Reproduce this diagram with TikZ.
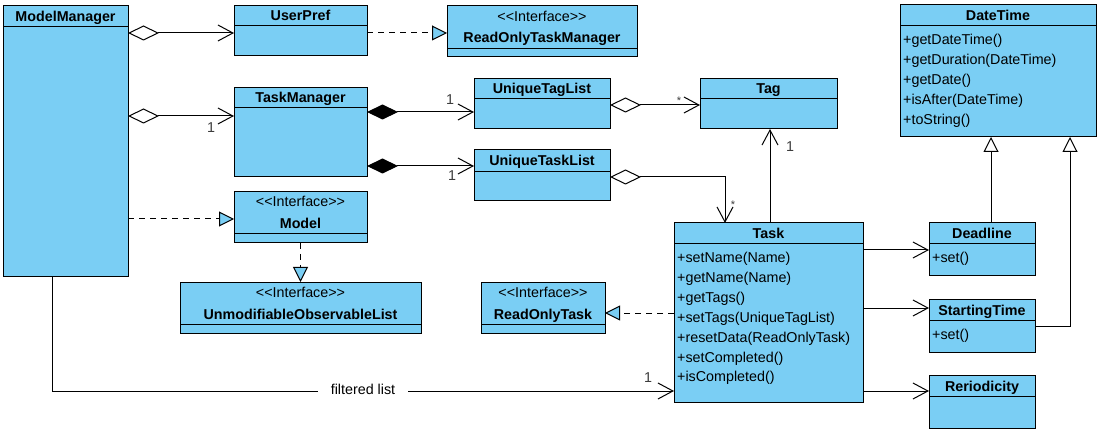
\documentclass[tikz,border=0pt]{standalone}
\usepackage{fontspec}
\newfontfamily\umlfont{Liberation Sans}
\usetikzlibrary{arrows.meta}
\definecolor{clsblue}{RGB}{122,206,244}
\definecolor{lblgray}{RGB}{60,60,60}
\tikzset{
  cls/.style={draw=black, line width=1pt, fill=clsblue, inner sep=0pt, outer sep=0pt},
  clsline/.style={draw=black, line width=1pt},
  title/.style={font=\umlfont\fontsize{14.3}{17}\selectfont\bfseries, anchor=base, inner sep=0pt},
  stereo/.style={font=\umlfont\fontsize{14.3}{17}\selectfont, anchor=base, inner sep=0pt},
  meth/.style={font=\umlfont\fontsize{14.3}{17}\selectfont, anchor=base west, inner sep=0pt},
  mult/.style={font=\umlfont\fontsize{14.3}{17}\selectfont, text=lblgray, anchor=base, inner sep=0pt},
  star/.style={font=\umlfont\fontsize{11}{13}\selectfont, text=lblgray, anchor=base, inner sep=0pt},
  conn/.style={line width=1pt, draw=black},
  assoc/.style={conn, -{Straight Barb[length=15pt,width=16pt]}},
  agg/.style={conn, {Diamond[open,length=31pt,width=15pt]}-{Straight Barb[length=15pt,width=16pt]}},
  comp/.style={conn, {Diamond[length=31pt,width=15pt]}-{Straight Barb[length=15pt,width=16pt]}},
  real/.style={conn, dash pattern=on 6pt off 5pt, -{Triangle[fill=clsblue,length=15pt,width=15pt]}},
  gen/.style={conn, -{Triangle[fill=white,length=15pt,width=15pt]}}
}
\newcommand{\umlbox}[6]{%
  \node[cls, minimum width={(#4-#2)*1pt}, minimum height={(#5-#3)*1pt}] (#1) at ({(#2+#4)/2},{(#3+#5)/2}) {};
  \draw[clsline] (#1.west |- 0,#6) -- (#1.east |- 0,#6);
}
\begin{document}
\begin{tikzpicture}[x=1pt,y=-1pt]
\useasboundingbox (0,0) rectangle (1097,430);
% boxes
\umlbox{MM}{3}{6}{128}{277}{27}
\umlbox{UP}{234}{6}{367}{56}{26}
\umlbox{TM}{234}{88}{367}{177}{108}
\umlbox{MD}{234}{192}{367}{243}{234}
\umlbox{UOL}{180}{282}{421}{333}{324}
\umlbox{RTM}{447}{6}{637}{57}{49}
\umlbox{UTgL}{474}{79}{610}{129}{99}
\umlbox{UTkL}{474}{150}{610}{201}{172}
\umlbox{Tag}{700}{79}{837}{129}{99}
\umlbox{DT}{900}{5}{1096}{137}{26}
\umlbox{Task}{674}{223}{863}{402}{244}
\umlbox{DL}{929}{223}{1035}{276}{244}
\umlbox{ST}{929}{299}{1035}{352}{320}
\umlbox{RP}{929}{375}{1035}{428}{396}
\umlbox{ROT}{481}{282}{605}{333}{324}
% connectors
\draw[agg] (MM.east |- 0,33) -- (UP.west |- 0,33);
\draw[agg] (MM.east |- 0,116) -- (TM.west |- 0,116);
\draw[real] (MM.east |- 0,219) -- (MD.west |- 0,219);
\draw[real] (MD.south) -- (UOL.north);
\draw[real] (UP.east |- 0,33) -- (RTM.west |- 0,33);
\draw[comp] (TM.east |- 0,112) -- (UTgL.west |- 0,112);
\draw[comp] (TM.east |- 0,166) -- (UTkL.west |- 0,166);
\draw[agg] (UTgL.east |- 0,105) -- (Tag.west |- 0,105);
\draw[agg] (UTkL.east |- 0,177) -| (Task.north -| 725,0);
\draw[assoc] (Task.north -| 770,0) -- (Tag.south -| 770,0);
\draw[real] (Task.west |- 0,313) -- (ROT.east |- 0,313);
\draw[assoc] (Task.east |- 0,250) -- (DL.west |- 0,250);
\draw[assoc] (Task.east |- 0,308) -- (ST.west |- 0,308);
\draw[assoc] (Task.east |- 0,391) -- (RP.west |- 0,391);
\draw[gen] (DL.north -| 991,0) -- (DT.south -| 991,0);
\draw[gen] (ST.east |- 0,326) -| (DT.south -| 1070,0);
\draw[assoc] (MM.south -| 52,0) |- (Task.west |- 0,391);
\node[stereo, fill=white, inner xsep=13pt, inner ysep=4pt] (fl) at (363,394) {filtered list};
% titles
\node[title] (tMM) at (MM |- 0,22) {ModelManager};
\node[title] (tUP) at (UP |- 0,21) {UserPref};
\node[title] (tTM) at (TM |- 0,103) {TaskManager};
\node[stereo] (sMD) at (MD |- 0,207) {<<Interface>>};
\node[title] (tMD) at (MD |- 0,229) {Model};
\node[stereo] (sUOL) at (UOL |- 0,298) {<<Interface>>};
\node[title] (tUOL) at (UOL |- 0,319) {UnmodifiableObservableList};
\node[stereo] (sRTM) at (RTM |- 0,21.5) {<<Interface>>};
\node[title] (tRTM) at (RTM |- 0,43) {ReadOnlyTaskManager};
\node[title] (tUTgL) at (UTgL |- 0,94) {UniqueTagList};
\node[title] (tUTkL) at (UTkL |- 0,166) {UniqueTaskList};
\node[title] (tTag) at (Tag |- 0,94) {Tag};
\node[title] (tDT) at (DT |- 0,21) {DateTime};
\node[title] (tTask) at (Task |- 0,239) {Task};
\node[title] (tDL) at (DL |- 0,239) {Deadline};
\node[title] (tST) at (ST |- 0,315) {StartingTime};
\node[title] (tRP) at (RP |- 0,391) {Reriodicity};
\node[stereo] (sROT) at (ROT |- 0,298) {<<Interface>>};
\node[title] (tROT) at (ROT |- 0,319) {ReadOnlyTask};
% methods
\node[meth] (dt1) at (903,45) {+getDateTime()};
\node[meth] (dt2) at (903,65) {+getDuration(DateTime)};
\node[meth] (dt3) at (903,85) {+getDate()};
\node[meth] (dt4) at (903,105) {+isAfter(DateTime)};
\node[meth] (dt5) at (903,125) {+toString()};
\node[meth] (tk1) at (677,263) {+setName(Name)};
\node[meth] (tk2) at (677,282.8) {+getName(Name)};
\node[meth] (tk3) at (677,302.6) {+getTags()};
\node[meth] (tk4) at (677,322.4) {+setTags(UniqueTagList)};
\node[meth] (tk5) at (677,342.2) {+resetData(ReadOnlyTask)};
\node[meth] (tk6) at (677,362) {+setCompleted()};
\node[meth] (tk7) at (677,381.8) {+isCompleted()};
\node[meth] (dl1) at (932,263) {+set()};
\node[meth] (st1) at (932,339) {+set()};
% multiplicities
\node[mult] (m1) at (211,133) {1};
\node[mult] (m2) at (450,105) {1};
\node[mult] (m3) at (452,181) {1};
\node[mult] (m4) at (790,152) {1};
\node[mult] (m5) at (648,382) {1};
\node[star] (s1) at (679,105) {*};
\node[star] (s2) at (733,209) {*};
\end{tikzpicture}
\end{document}
